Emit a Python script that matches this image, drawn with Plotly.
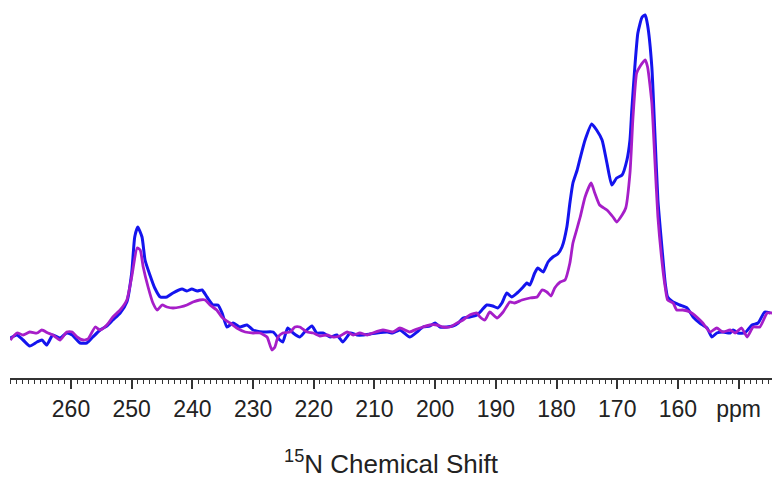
import plotly.graph_objects as go

# Blue spectrum (ppm, intensity in arbitrary units)
blue_ppm = [270.0, 268.9, 267.9, 266.8, 265.6, 264.8, 264.0, 263.0, 261.8, 260.7, 259.8, 258.5, 257.4, 256.4,
            255.2, 254.1, 253.1, 251.9, 250.8, 250.0, 249.5, 249.0, 248.3, 247.8, 247.0, 246.2, 245.3, 244.2,
            243.2, 241.7, 240.9, 240.1, 239.2, 238.4, 237.6, 236.6, 235.8, 235.1, 234.3, 233.3, 232.2, 231.0,
            230.0, 228.4, 226.7, 225.6, 225.1, 224.3, 223.4, 222.3, 221.5, 220.3, 219.5, 218.5, 217.3, 216.2,
            215.2, 214.0, 212.9, 211.9, 210.7, 209.6, 207.9, 207.0, 205.8, 204.2, 203.0, 202.0, 200.9, 200.0,
            199.2, 198.1, 197.1, 196.2, 195.4, 194.3, 193.1, 192.3, 191.5, 190.5, 189.7, 189.0, 188.2, 187.4,
            186.5, 185.5, 184.9, 184.4, 183.6, 183.1, 182.2, 181.4, 180.6, 179.8, 179.1, 178.3, 177.8, 177.3,
            176.6, 176.1, 175.3, 174.2, 173.4, 172.5, 171.7, 170.9, 170.1, 169.2, 168.4, 167.9, 167.6, 167.1,
            166.6, 165.9, 165.4, 165.0, 164.3, 163.8, 163.3, 162.6, 162.1, 161.7, 160.8, 159.7, 158.5, 157.5,
            156.4, 155.2, 154.4, 153.6, 152.6, 151.4, 150.9, 150.1, 149.0, 147.8, 146.8, 145.7, 144.8]
blue_int = [40, 43, 38, 32, 36, 38, 33, 43, 40, 45, 43, 35, 35, 41,
            48, 52, 58, 65, 76, 105, 141, 151, 141, 118, 103, 90, 81, 81,
            85, 89, 87, 89, 87, 88, 81, 73, 73, 65, 51, 55, 51, 53,
            48, 46, 46, 38, 36, 50, 45, 41, 46, 52, 45, 45, 41, 43,
            36, 45, 43, 43, 44, 45, 46, 45, 48, 41, 46, 51, 52, 55,
            51, 51, 52, 55, 60, 61, 63, 68, 73, 72, 70, 75, 85, 81,
            85, 91, 95, 93, 105, 110, 106, 116, 121, 124, 131, 151, 175, 195,
            208, 220, 238, 254, 248, 238, 215, 193, 200, 203, 218, 238, 268, 311,
            345, 361, 363, 353, 311, 245, 178, 128, 95, 81, 76, 73, 70, 61,
            55, 50, 41, 45, 46, 45, 48, 45, 45, 53, 55, 66, 65]

# Magenta spectrum
mag_ppm = [270.0, 268.9, 267.9, 266.8, 265.6, 264.8, 263.8, 263.0, 261.8, 260.7, 259.8, 259.0, 258.0, 257.2,
           256.0, 255.2, 254.1, 253.1, 251.9, 250.8, 250.0, 249.1, 248.6, 248.1, 247.3, 246.5, 245.8, 245.0,
           244.2, 243.2, 242.0, 240.9, 239.9, 238.8, 237.9, 237.1, 236.0, 235.0, 233.8, 232.7, 231.3, 230.0,
           228.9, 227.7, 226.9, 226.4, 225.9, 225.1, 223.9, 223.1, 222.3, 221.1, 220.1, 219.0, 217.8, 216.8,
           215.7, 214.5, 213.5, 212.4, 211.2, 210.3, 208.6, 207.0, 205.8, 204.2, 203.0, 202.0, 200.9, 199.7,
           198.7, 197.6, 196.4, 195.4, 194.3, 193.1, 192.6, 191.8, 191.0, 189.8, 188.8, 187.7, 186.9, 185.7,
           184.4, 183.2, 182.4, 181.6, 180.9, 180.3, 179.4, 178.6, 177.8, 177.3, 176.6, 176.1, 175.3, 174.3,
           173.7, 172.9, 171.7, 170.7, 170.1, 169.2, 168.6, 167.9, 167.4, 166.8, 166.3, 165.4, 165.0, 164.3,
           163.8, 163.3, 162.6, 162.1, 161.7, 160.8, 160.2, 159.2, 158.0, 156.9, 155.9, 154.7, 153.6, 152.6,
           151.4, 150.6, 149.5, 148.6, 147.6, 146.5, 145.3, 144.5]
mag_int = [38, 45, 43, 46, 45, 48, 45, 43, 38, 46, 46, 41, 38, 39,
           51, 48, 53, 61, 68, 78, 101, 130, 128, 111, 91, 75, 68, 73,
           71, 70, 71, 73, 76, 78, 78, 73, 68, 60, 55, 50, 46, 45,
           45, 41, 28, 31, 41, 45, 46, 51, 51, 46, 45, 42, 43, 41,
           42, 46, 43, 45, 43, 45, 48, 46, 50, 46, 49, 51, 53, 53,
           51, 51, 55, 58, 63, 65, 61, 58, 66, 60, 66, 76, 75, 78,
           80, 81, 88, 86, 82, 90, 96, 98, 115, 135, 150, 161, 181, 195,
           185, 173, 168, 161, 156, 163, 170, 205, 261, 305, 311, 318, 311, 275,
           218, 161, 115, 91, 78, 75, 68, 68, 66, 61, 55, 46, 50, 46,
           48, 45, 50, 41, 51, 51, 65, 65]

major_ticks = [260, 250, 240, 230, 220, 210, 200, 190, 180, 170, 160, 150]
unit_label = "ppm"

fig = go.Figure()
fig.add_trace(go.Scatter(x=blue_ppm, y=blue_int, mode="lines",
                         line=dict(color="#1414ee", width=3, shape="spline", smoothing=0.5),
                         showlegend=False))
fig.add_trace(go.Scatter(x=mag_ppm, y=mag_int, mode="lines",
                         line=dict(color="#a61ec8", width=2.8, shape="spline", smoothing=0.5),
                         showlegend=False))

fig.update_layout(
    width=782, height=480,
    margin=dict(l=10, r=10, t=5, b=102),
    paper_bgcolor="white", plot_bgcolor="white",
    font=dict(family="Arial, Liberation Sans, sans-serif", color="#222"),
    xaxis=dict(
        range=[270.05, 144.5],
        tickmode="array", tickvals=major_ticks,
        ticktext=[str(v) if v != 150 else unit_label for v in major_ticks],
        ticks="outside", ticklen=9, tickwidth=1.5, tickcolor="#333",
        showline=True, linecolor="#333", linewidth=2,
        showgrid=False, zeroline=False,
        tickfont=dict(size=23, color="#222"),
        minor=dict(tickmode="linear", tick0=0, dtick=1, ticks="outside",
                   ticklen=4, tickwidth=1, tickcolor="#333", showgrid=False),
        title=dict(text="<sup>15</sup>N Chemical Shift", font=dict(size=26, color="#222"), standoff=34),
    ),
    yaxis=dict(range=[0, 373], visible=False, showgrid=False, zeroline=False),
)

fig.write_html("out.html")
